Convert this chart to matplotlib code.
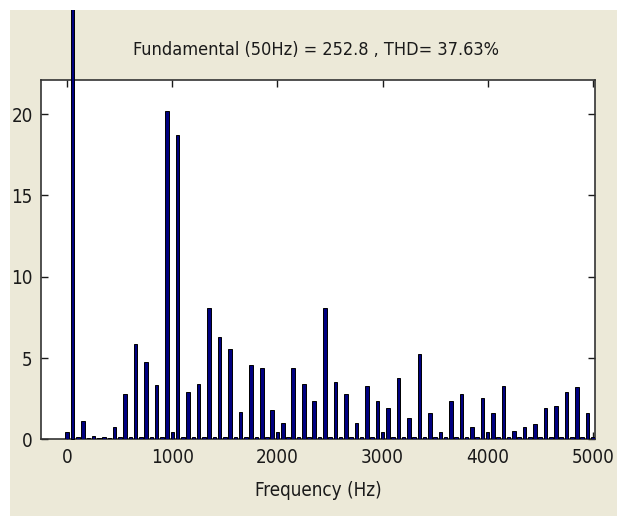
import matplotlib
matplotlib.use("Agg")
import matplotlib.pyplot as plt
from matplotlib.patches import Rectangle

plt.rcParams['font.family'] = ['DejaVu Sans']
plt.rcParams['font.stretch'] = 'condensed'

# Harmonic order (fundamental 50 Hz) and magnitudes
fund_freq = 50
orders = list(range(0, 101))
magnitudes = [
    0.45, 252.8, 0.12, 1.15, 0.08, 0.20, 0.10, 0.12, 0.10, 0.78,
    0.12, 2.80, 0.12, 5.86, 0.12, 4.78, 0.12, 3.32, 0.12, 20.20,
    0.45, 18.73, 0.12, 2.88, 0.12, 3.40, 0.12, 8.08, 0.12, 6.32,
    0.12, 5.56, 0.12, 1.70, 0.12, 4.59, 0.12, 4.37, 0.12, 1.80,
    0.45, 0.98, 0.12, 4.39, 0.12, 3.42, 0.12, 2.38, 0.12, 8.08,
    0.12, 3.53, 0.12, 2.81, 0.12, 0.98, 0.12, 3.30, 0.12, 2.38,
    0.45, 1.95, 0.12, 3.75, 0.12, 1.29, 0.12, 5.23, 0.12, 1.60,
    0.12, 0.43, 0.12, 2.38, 0.12, 2.77, 0.12, 0.76, 0.12, 2.56,
    0.45, 1.60, 0.12, 3.30, 0.12, 0.53, 0.12, 0.76, 0.12, 0.96,
    0.12, 1.95, 0.12, 2.03, 0.12, 2.89, 0.12, 3.20, 0.12, 1.60,
    0.12,
]
x_ticks = [0, 1000, 2000, 3000, 4000, 5000]
y_ticks = [0, 5, 10, 15, 20]
title_text = "Fundamental (50Hz) = 252.8 , THD= 37.63%"
xlabel_text = "Frequency (Hz)"

freqs = [fund_freq * n for n in orders]

W, H = 617, 516
fig = plt.figure(figsize=(W / 100, H / 100), dpi=100)
fig.patch.set_facecolor('white')
beige = '#ECE9D8'
fig.patches.append(Rectangle((10 / W, 0), 1 - 10 / W, 1 - 10 / H,
                             transform=fig.transFigure, facecolor=beige,
                             edgecolor='none', zorder=-10))

ax = fig.add_axes([41 / W, (H - 439.3) / H, (595 - 41) / W, (439.3 - 80) / H])
ax.set_facecolor('white')
bars = ax.bar(freqs, magnitudes, width=34, color='#000080',
              edgecolor='black', linewidth=0.7, zorder=3)
# fundamental bar extends beyond the axes
bars[1].set_clip_on(False)

ax.set_xlim(-250, 5021)
ax.set_ylim(0, 22.1)
ax.set_xticks(x_ticks)
ax.set_yticks(y_ticks)
ax.tick_params(direction='in', top=True, right=True, length=5, width=1,
               labelsize=13.5, colors='#1a1a1a', pad=6)
for s in ax.spines.values():
    s.set_linewidth(1.2)
    s.set_color('#333333')

ax.set_xlabel(xlabel_text, fontsize=13.5, color='#1a1a1a', labelpad=10)
fig.text(316 / W, 1 - 50 / H, title_text, ha='center', va='center',
         fontsize=13, color='#1a1a1a')

# white border at top covering the overflowing bar
fig.patches.append(Rectangle((0, 1 - 10 / H), 1, 10 / H,
                             transform=fig.transFigure, facecolor='white',
                             edgecolor='none', zorder=20))

fig.savefig('out.png', dpi=100, facecolor=fig.get_facecolor())
